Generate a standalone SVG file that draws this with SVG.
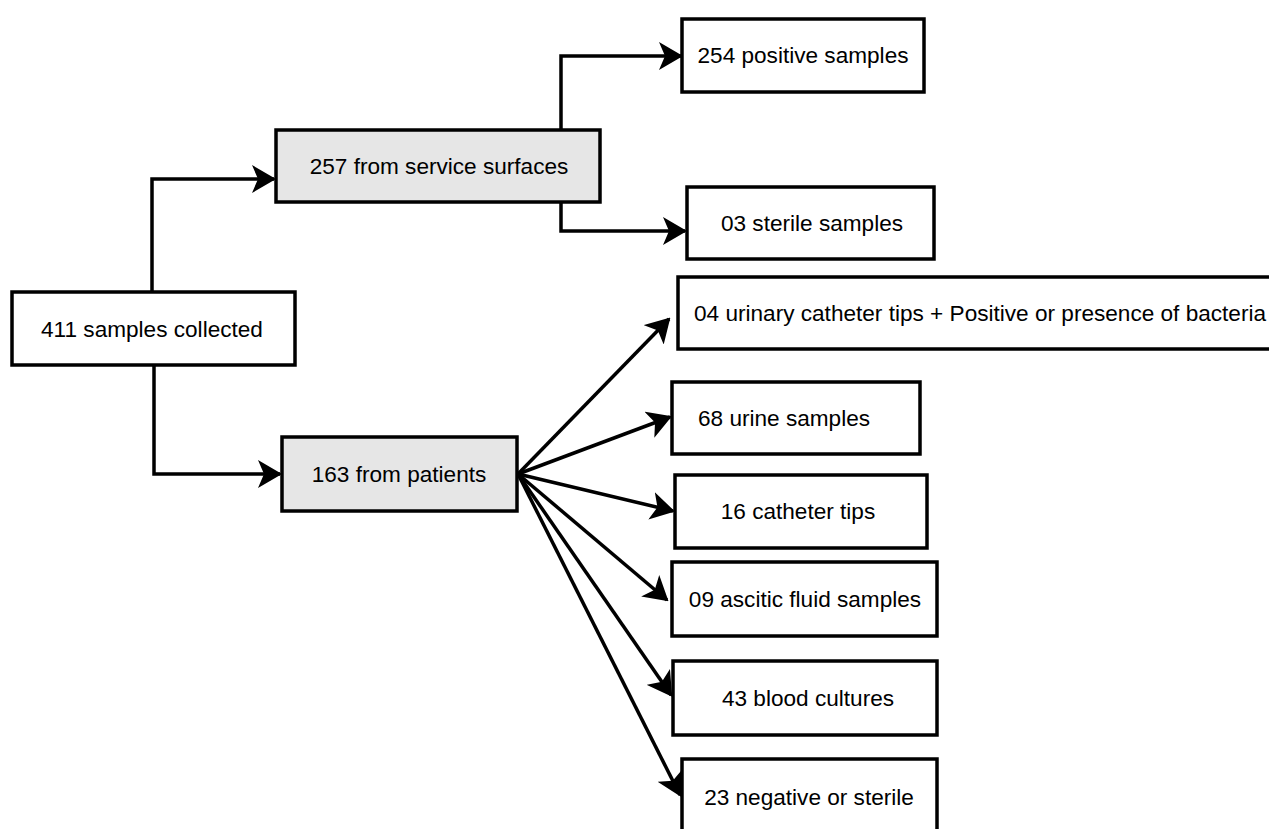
<svg xmlns="http://www.w3.org/2000/svg" width="1269" height="829" viewBox="0 0 1269 829">
<style>
.box{fill:#ffffff;stroke:#000;stroke-width:3.5}
.grey{fill:#e6e6e6;stroke:#000;stroke-width:3.5}
.t{font-family:"Liberation Sans",Arial,sans-serif;font-size:22.6px;fill:#000;text-anchor:middle}
.c{fill:none;stroke:#000;stroke-width:3.5;marker-end:url(#ah)}
</style>
<defs>
<marker id="ah" viewBox="0 0 24 28" refX="22" refY="14" markerWidth="24" markerHeight="28" markerUnits="userSpaceOnUse" orient="auto">
<path d="M0,0 L24,14 L0,28 L6,14 Z" fill="#000"/>
</marker>
</defs>
<rect width="1269" height="829" fill="#fff"/>
<g id="connectors">
<path class="c" d="M152,292 V179 H274"/>
<path class="c" d="M154,365 V474 H280"/>
<path class="c" d="M561,129 V56 H681"/>
<path class="c" d="M561,202 V231 H685"/>
<path class="c" d="M518,474 L669,319"/>
<path class="c" d="M518,474 L670,417"/>
<path class="c" d="M518,474 L673,511"/>
<path class="c" d="M518,474 L667,600"/>
<path class="c" d="M518,474 L671,695"/>
<path class="c" d="M518,474 L680,795"/>
</g>
<g id="n411"><rect class="box" x="12" y="292" width="283" height="73"/><text class="t" x="152" y="337">411 samples collected</text></g>
<g id="n257"><rect class="grey" x="276" y="130" width="324" height="72"/><text class="t" x="439" y="174">257 from service surfaces</text></g>
<g id="n163"><rect class="grey" x="282" y="437" width="235" height="74"/><text class="t" x="399" y="482">163 from patients</text></g>
<g id="n254"><rect class="box" x="682" y="19" width="242" height="73"/><text class="t" x="803" y="63">254 positive samples</text></g>
<g id="n03"><rect class="box" x="687" y="187" width="247" height="72"/><text class="t" x="812" y="231">03 sterile samples</text></g>
<g id="n04"><rect class="box" x="678" y="277" width="600" height="72"/><text class="t" x="694" y="321" style="text-anchor:start">04 urinary catheter tips + Positive or presence of bacteria</text></g>
<g id="n68"><rect class="box" x="672" y="382" width="248" height="72"/><text class="t" x="784" y="426">68 urine samples</text></g>
<g id="n16"><rect class="box" x="675" y="475" width="252" height="73"/><text class="t" x="798" y="519">16 catheter tips</text></g>
<g id="n09"><rect class="box" x="672" y="562" width="265" height="74"/><text class="t" x="805" y="607">09 ascitic fluid samples</text></g>
<g id="n43"><rect class="box" x="673" y="661" width="264" height="74"/><text class="t" x="808" y="706">43 blood cultures</text></g>
<g id="n23"><rect class="box" x="682" y="759" width="255" height="90"/><text class="t" x="809" y="805">23 negative or sterile</text></g>
</svg>
